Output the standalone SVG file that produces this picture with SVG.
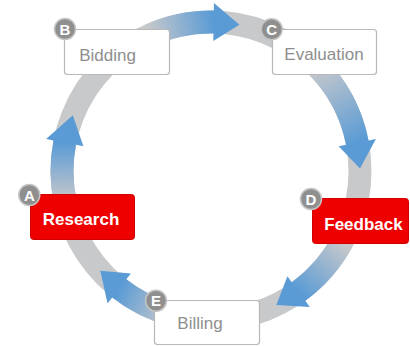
<svg xmlns="http://www.w3.org/2000/svg" width="410" height="346" viewBox="0 0 410 346">
<style>
.box{fill:#fff;stroke:#b8b8b8;stroke-width:1.2}
.hot{fill:#ee0000;stroke:#d00000;stroke-width:1}
.lbl{font-family:"Liberation Sans",Arial,sans-serif;font-size:17px;fill:#8e8e8e;text-anchor:middle}
.lblh{font-family:"Liberation Sans",Arial,sans-serif;font-size:17px;font-weight:bold;fill:#fff;text-anchor:middle}
.badge{fill:#8f8f8f;stroke:#c4c4c4;stroke-width:1.5}
.bt{font-family:"Liberation Sans",Arial,sans-serif;font-size:15px;font-weight:bold;fill:#fff;text-anchor:middle}
</style>
<defs>
<linearGradient id="g1" gradientUnits="userSpaceOnUse" x1="148.03" y1="35.96" x2="213.6" y2="22.02"><stop offset="0" stop-color="#c8c9cb"/><stop offset="1" stop-color="#5a9bd5"/></linearGradient>
<linearGradient id="g2" gradientUnits="userSpaceOnUse" x1="316.36" y1="65.64" x2="357.26" y2="142.57"><stop offset="0" stop-color="#c8c9cb"/><stop offset="1" stop-color="#5a9bd5"/></linearGradient>
<linearGradient id="g3" gradientUnits="userSpaceOnUse" x1="342.55" y1="240.96" x2="298.58" y2="291.54"><stop offset="0" stop-color="#c8c9cb"/><stop offset="1" stop-color="#5a9bd5"/></linearGradient>
<linearGradient id="g4" gradientUnits="userSpaceOnUse" x1="172.44" y1="314.92" x2="119.26" y2="288.41"><stop offset="0" stop-color="#c8c9cb"/><stop offset="1" stop-color="#5a9bd5"/></linearGradient>
<linearGradient id="g5" gradientUnits="userSpaceOnUse" x1="65.26" y1="201.98" x2="64.74" y2="142.57"><stop offset="0" stop-color="#c8c9cb"/><stop offset="1" stop-color="#5a9bd5"/></linearGradient>
</defs>
<rect width="410" height="346" fill="#fff"/>
<g id="connectors">
<circle cx="211" cy="171" r="149" fill="none" stroke="#c8c9cb" stroke-width="23"/>
<path fill="url(#g1)" d="M152.89,46.38 L143.17,25.54 A160.5,160.5 0 0 1 213.8,10.52 L213.93,3.03 L239.43,24.74 L213.27,41.02 L213.4,33.52 A137.5,137.5 0 0 0 152.89,46.38 Z"/>
<path fill="url(#g2)" d="M308.23,73.77 L324.49,57.51 A160.5,160.5 0 0 1 368.55,140.38 L375.91,138.95 L359.98,168.4 L338.61,146.2 L345.97,144.76 A137.5,137.5 0 0 0 308.23,73.77 Z"/>
<path fill="url(#g3)" d="M332.4,235.56 L352.71,246.35 A160.5,160.5 0 0 1 305.34,300.84 L309.75,306.91 L276.32,304.92 L287.41,276.17 L291.82,282.24 A137.5,137.5 0 0 0 332.4,235.56 Z"/>
<path fill="url(#g4)" d="M175.41,303.81 L169.46,326.03 A160.5,160.5 0 0 1 112.18,297.47 L107.56,303.38 L100.28,270.7 L130.96,273.44 L126.34,279.35 A137.5,137.5 0 0 0 175.41,303.81 Z"/>
<path fill="url(#g5)" d="M76.51,199.59 L54.01,204.37 A160.5,160.5 0 0 1 53.45,140.38 L46.09,138.95 L72.85,115.18 L83.39,146.2 L76.03,144.76 A137.5,137.5 0 0 0 76.51,199.59 Z"/>
</g>
<g id="node-bidding">
<rect class="box" x="64.5" y="29.5" width="105" height="45" rx="3"/>
<text class="lbl" x="107.5" y="61">Bidding</text>
<circle class="badge" cx="65" cy="29" r="10.5"/>
<text class="bt" x="65" y="34.5">B</text>
</g>
<g id="node-evaluation">
<rect class="box" x="272.5" y="29.5" width="104" height="45" rx="3"/>
<text class="lbl" x="324" y="60">Evaluation</text>
<circle class="badge" cx="271.7" cy="29.3" r="10.5"/>
<text class="bt" x="271.7" y="34.8">C</text>
</g>
<g id="node-research">
<rect class="hot" x="30.5" y="194.5" width="104" height="45" rx="3"/>
<text class="lblh" x="81" y="225">Research</text>
<circle class="badge" cx="29.3" cy="195" r="10.5"/>
<text class="bt" x="29.3" y="200.5">A</text>
</g>
<g id="node-feedback">
<rect class="hot" x="312.5" y="198.5" width="96" height="45" rx="3"/>
<text class="lblh" x="363.5" y="230">Feedback</text>
<circle class="badge" cx="311" cy="199" r="10.5"/>
<text class="bt" x="311" y="204.5">D</text>
</g>
<g id="node-billing">
<rect class="box" x="154.5" y="300.5" width="105" height="44" rx="3"/>
<text class="lbl" x="200" y="329">Billing</text>
<circle class="badge" cx="156" cy="300.7" r="10.5"/>
<text class="bt" x="156" y="306.2">E</text>
</g>
</svg>
